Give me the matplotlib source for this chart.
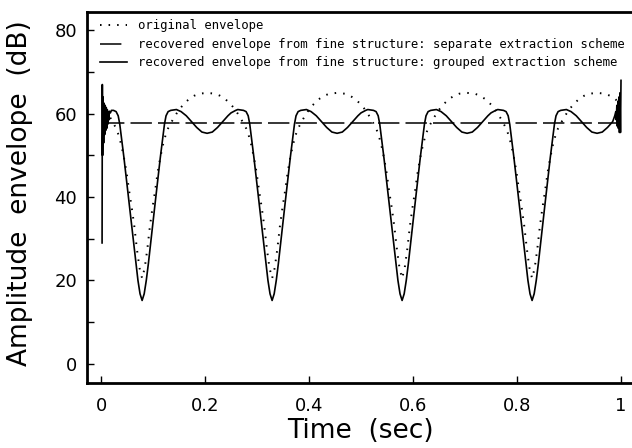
import numpy as np
import matplotlib
matplotlib.use('Agg')
import matplotlib.pyplot as plt
from matplotlib.ticker import MultipleLocator

# ── DATA ──────────────────────────────────────────────────────────────────────
# one modulation cycle (0.25 s), time inside the cycle and level in dB
cycle_starts = [0.0, 0.25, 0.5, 0.75]

orig_cycle_t = [0.000, 0.009, 0.019, 0.029, 0.034, 0.039, 0.044, 0.049, 0.054,
                0.059, 0.064, 0.069, 0.074, 0.079, 0.084, 0.089, 0.094, 0.099,
                0.104, 0.109, 0.114, 0.119, 0.124, 0.129, 0.139, 0.149, 0.159,
                0.169, 0.179, 0.189, 0.204, 0.219, 0.229, 0.239, 0.249]
orig_cycle_db = [62.2, 60.8, 58.8, 56.5, 54.8, 52.5, 49.5, 46.0, 41.5,
                 37.5, 33.0, 27.5, 23.0, 20.5, 23.0, 27.5, 33.0, 37.5,
                 41.5, 46.0, 49.5, 52.5, 54.8, 56.5, 58.8, 60.8, 62.3,
                 63.5, 64.3, 64.8, 65.0, 64.8, 64.3, 63.5, 62.3]

grp_cycle_t = [0.000, 0.009, 0.013, 0.019, 0.024, 0.029, 0.033, 0.036, 0.039,
               0.044, 0.049, 0.054, 0.059, 0.063, 0.067, 0.071, 0.075, 0.079,
               0.083, 0.087, 0.091, 0.095, 0.099, 0.104, 0.109, 0.114, 0.119,
               0.122, 0.125, 0.129, 0.134, 0.139, 0.145, 0.154, 0.164, 0.174,
               0.184, 0.194, 0.204, 0.214, 0.224, 0.234, 0.244]
grp_cycle_db = [60.2, 60.8, 61.0, 60.9, 60.8, 60.5, 59.5, 57.5, 54.5,
                49.5, 44.0, 38.5, 33.0, 28.5, 24.0, 20.0, 16.8, 15.2,
                16.8, 20.0, 24.0, 28.5, 33.0, 38.5, 44.0, 49.5, 54.5,
                57.5, 59.5, 60.5, 60.8, 60.9, 61.0, 60.5, 59.5, 58.1,
                56.7, 55.6, 55.3, 55.6, 56.7, 58.1, 59.5]

# onset and offset ringing of the grouped scheme
grp_start_t = [0.002, 0.0025, 0.003, 0.004, 0.005, 0.006, 0.007, 0.008, 0.009,
               0.010, 0.011, 0.012, 0.013, 0.014, 0.015, 0.016, 0.018, 0.020]
grp_start_db = [29.0, 67.0, 50.0, 64.0, 53.0, 62.5, 55.0, 62.0, 56.0,
                61.5, 56.5, 61.0, 57.5, 60.5, 58.5, 60.6, 60.2, 60.8]
grp_end_t = [0.988, 0.990, 0.991, 0.992, 0.993, 0.994, 0.995, 0.996, 0.997,
             0.998, 0.999, 1.000]
grp_end_db = [59.5, 60.5, 58.5, 62.0, 57.0, 63.0, 56.5, 64.0, 55.5, 65.0, 55.5, 68.0]

sep_t = [0.003, 1.0]
sep_db = [57.8, 57.8]

x_ticks = [0, 0.2, 0.4, 0.6, 0.8, 1]
x_ticklabels = ['0', '0.2', '0.4', '0.6', '0.8', '1']
y_ticks = [0, 20, 40, 60, 80]

legend_labels = ['original envelope',
                 'recovered envelope from fine structure: separate extraction scheme',
                 'recovered envelope from fine structure: grouped extraction scheme']

# ── SUSUN SERI PENUH ──────────────────────────────────────────────────────────
orig_t = np.concatenate([s + np.array(orig_cycle_t) for s in cycle_starts])
orig_db = np.tile(orig_cycle_db, len(cycle_starts))
keep = orig_t >= 0.008
orig_t = np.append(orig_t[keep], 1.0)
orig_db = np.append(orig_db[keep], orig_cycle_db[0])

grp_t = np.concatenate([s + np.array(grp_cycle_t) for s in cycle_starts])
grp_db = np.tile(grp_cycle_db, len(cycle_starts))
keep = (grp_t > grp_start_t[-1]) & (grp_t < grp_end_t[0])
grp_t = np.concatenate([grp_start_t, grp_t[keep], grp_end_t])
grp_db = np.concatenate([grp_start_db, grp_db[keep], grp_end_db])

# ── PLOT ──────────────────────────────────────────────────────────────────────
fig = plt.figure(figsize=(6.32, 4.48), dpi=100)
ax = fig.add_axes([87 / 632, 65 / 448, 547 / 632, 371 / 448])

ax.plot(orig_t, orig_db, color='black', lw=1.4, linestyle=(0, (0.8, 3.6)),
        label=legend_labels[0])
ax.plot(sep_t, sep_db, color='black', lw=1.1, linestyle=(0, (14, 4)),
        label=legend_labels[1])
ax.plot(grp_t, grp_db, color='black', lw=1.2, linestyle='-',
        label=legend_labels[2])

ax.set_xlim(-0.027, 1.025)
ax.set_ylim(-4.6, 84.4)
ax.set_xticks(x_ticks)
ax.set_xticklabels(x_ticklabels)
ax.set_yticks(y_ticks)
ax.yaxis.set_minor_locator(MultipleLocator(10))

for side in ['top', 'left', 'bottom']:
    ax.spines[side].set_linewidth(2.0)
ax.spines['right'].set_visible(False)

ax.tick_params(which='both', direction='in', length=5, width=1.0,
               top=False, right=False)
ax.tick_params(axis='x', pad=10, labelsize=13)
ax.tick_params(axis='y', pad=7, labelsize=13)
for lab in ax.get_xticklabels() + ax.get_yticklabels():
    lab.set_family('DejaVu Sans')

ax.set_xlabel('Time  (sec)', fontsize=19, family='DejaVu Sans')
ax.set_ylabel('Amplitude  envelope  (dB)', fontsize=19, family='DejaVu Sans')
ax.xaxis.set_label_coords(0.5, -0.093)
ax.yaxis.set_label_coords(-0.099, 0.513)

ax.legend(loc='upper left', bbox_to_anchor=(13 / 547, 0.98), frameon=False,
          prop={'family': 'DejaVu Sans Mono', 'size': 8.8},
          handlelength=2.2, handletextpad=0.89, labelspacing=0.45,
          borderaxespad=0.0, borderpad=0.0)

plt.savefig('out.png', dpi=100)
